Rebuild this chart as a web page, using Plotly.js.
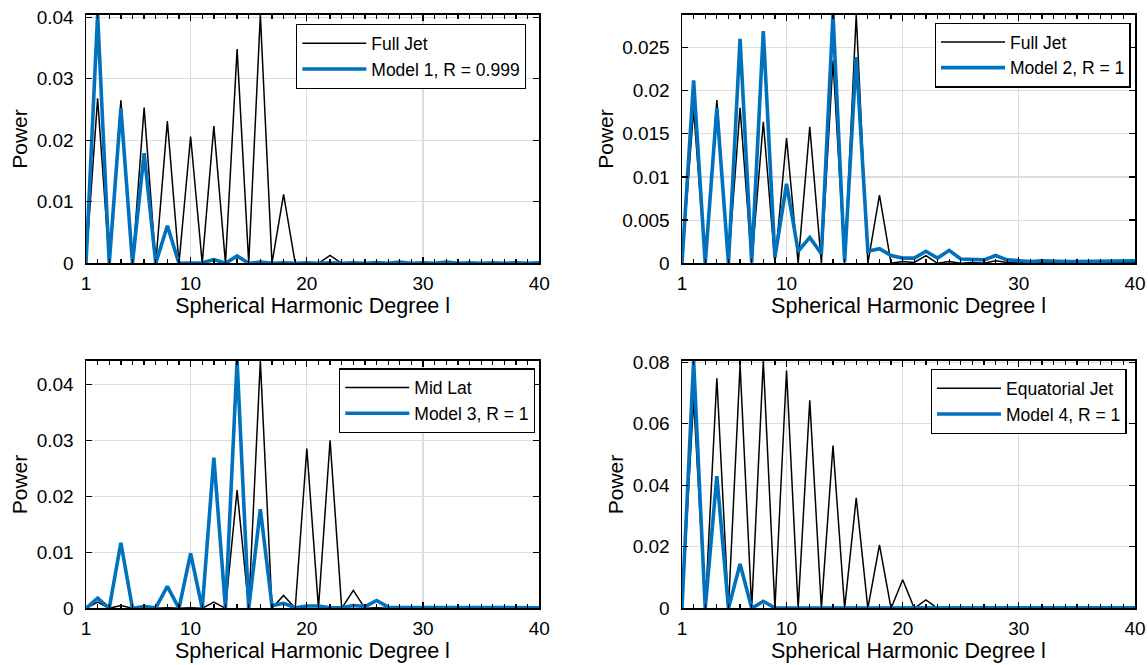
<!DOCTYPE html>
<html>
<head>
<meta charset="utf-8">
<script src="https://cdn.plot.ly/plotly-3.0.1.min.js"></script>
<style>html,body{margin:0;padding:0;background:#fff;}#chart{width:1148px;height:665px;}</style>
</head>
<body>
<div id="chart"></div>
<script>
const degrees = [1,2,3,4,5,6,7,8,9,10,11,12,13,14,15,16,17,18,19,20,21,22,23,24,25,26,27,28,29,30,31,32,33,34,35,36,37,38,39,40];

const fullJet1 = [0,0.0268,0,0.0265,0,0.0253,0,0.0231,0,0.0206,0,0.0223,0,0.0348,0,0.0404,0,0.0112,0,0.0001,0,0.0013,0,0.0001,0,0.0003,0,0.0001,0,0.0001,0,0.0001,0,0,0,0,0,0,0,0];
const model1   = [0,0.0404,0,0.0252,0,0.0179,0,0.0061,0,0.0001,0.0001,0.0006,0,0.0012,0,0.0002,0,0.0001,0,0.0001,0,0.0001,0,0.0001,0,0.0001,0,0.0002,0,0.0001,0,0.0002,0,0.0001,0,0.0001,0,0.0001,0,0.0001];

const fullJet2 = [0,0.0178,0,0.0189,0,0.0180,0,0.0164,0,0.0145,0,0.0158,0,0.0235,0,0.0288,0,0.0079,0,0.0002,0.0001,0.0009,0,0.0002,0,0.0001,0,0.0003,0.0001,0.0001,0.0001,0.0001,0.0001,0.0001,0.0001,0.0001,0.0001,0.0001,0.0001,0.0001];
const model2   = [0,0.0212,0,0.0180,0,0.0260,0.0001,0.0269,0.0007,0.0092,0.0014,0.0030,0.0011,0.0288,0.0002,0.0239,0.0014,0.0017,0.0009,0.0006,0.0006,0.0014,0.0006,0.0015,0.0005,0.0005,0.0004,0.0009,0.0004,0.0003,0.0002,0.0003,0.0002,0.0002,0.0002,0.0002,0.0002,0.0003,0.0002,0.0003];

const midLat   = [0,0.0011,0,0.0005,0,0.0001,0,0.0001,0,0.0001,0,0.0011,0,0.0211,0,0.0442,0,0.0023,0,0.0285,0,0.0300,0,0.0032,0,0.0001,0,0,0,0,0,0,0,0,0,0,0,0,0,0];
const model3   = [0,0.0018,0,0.0117,0,0.0003,0.0001,0.0039,0,0.0098,0,0.0269,0,0.0442,0,0.0177,0.0005,0.0009,0.0001,0.0004,0.0004,0.0001,0.0001,0.0005,0.0003,0.0014,0.0002,0.0002,0.0002,0.0002,0.0001,0.0002,0.0001,0.0001,0.0001,0.0001,0.0001,0.0001,0.0001,0.0001];

const eqJet    = [0,0.0680,0,0.0748,0,0.0791,0,0.0805,0,0.0773,0,0.0676,0,0.0529,0,0.0359,0,0.0206,0,0.0093,0,0.0027,0,0.0002,0,0.0001,0,0.0001,0,0.0001,0,0.0001,0,0.0001,0,0.0001,0,0.0001,0,0.0001];
const model4   = [0,0.0805,0,0.0430,0,0.0144,0,0.0023,0.0001,0.0001,0.0001,0.0002,0.0001,0.0001,0.0001,0.0001,0.0001,0.0001,0.0001,0.0001,0.0001,0.0001,0.0001,0.0001,0.0001,0.0001,0.0001,0.0002,0.0001,0.0002,0.0001,0.0001,0.0001,0.0001,0.0001,0.0001,0.0001,0.0002,0.0001,0.0002];

const refNames   = ['Full Jet','Full Jet','Mid Lat','Equatorial Jet'];
const modelNames = ['Model 1, R = 0.999','Model 2, R = 1','Model 3, R = 1','Model 4, R = 1'];
const refSeries   = [fullJet1, fullJet2, midLat, eqJet];
const modelSeries = [model1, model2, model3, model4];

const xTitle = 'Spherical Harmonic Degree l';
const yTitle = 'Power';
const xTicks = [1,10,20,30,40];
const yTicks = [
  [0,0.01,0.02,0.03,0.04],
  [0,0.005,0.01,0.015,0.02,0.025],
  [0,0.01,0.02,0.03,0.04],
  [0,0.02,0.04,0.06,0.08]
];
const yTickText = [
  ['0','0.01','0.02','0.03','0.04'],
  ['0','0.005','0.01','0.015','0.02','0.025'],
  ['0','0.01','0.02','0.03','0.04'],
  ['0','0.02','0.04','0.06','0.08']
];
const yMax = [0.0404, 0.0288, 0.0442, 0.0805];

const BLUE = '#0072BD';
const FONT = 'Liberation Sans, Arial, Helvetica, sans-serif';
const W = 1148, H = 665;

// pixel boxes of the four axes [left, right, top, bottom]
const boxes = [
  [86, 539.3, 14.7, 263.3],
  [682, 1135, 14.7, 263.3],
  [86, 539.3, 360.7, 608.3],
  [682, 1135, 360.7, 608.3]
];
// legend top-right corners [right, top]
const legendPos = [[526, 24], [1130.7, 22.7], [535, 368.3], [1126.7, 369]];

const traces = [];
const layout = {
  width: W, height: H,
  margin: {l:0, r:0, t:0, b:0},
  paper_bgcolor: '#fff', plot_bgcolor: '#fff',
  font: {family: FONT, color: '#000', size: 18},
  showlegend: true,
  annotations: []
};

for (let i = 0; i < 4; i++) {
  const s = i === 0 ? '' : String(i + 1);
  const leg = i === 0 ? 'legend' : 'legend' + (i + 1);
  const bottomRow = i >= 2;
  traces.push({
    x: degrees, y: refSeries[i], type: 'scatter', mode: 'lines',
    name: refNames[i], xaxis: 'x' + s, yaxis: 'y' + s, legend: leg,
    line: {color: '#000', width: 1.5}
  });
  traces.push({
    x: degrees, y: modelSeries[i], type: 'scatter', mode: 'lines',
    name: modelNames[i], xaxis: 'x' + s, yaxis: 'y' + s, legend: leg,
    line: {color: BLUE, width: 3.6}
  });
  const b = boxes[i];
  layout['xaxis' + s] = {
    domain: [b[0] / W, b[1] / W],
    anchor: 'y' + s,
    range: [1, 40],
    tickmode: 'array', tickvals: xTicks, ticktext: xTicks.map(String),
    ticks: 'inside', ticklen: 6, tickwidth: 1.3, tickcolor: '#000',
    minor: {tickmode: 'linear', tick0: 1, dtick: 1, ticks: 'inside', ticklen: 4, tickwidth: 1.3, tickcolor: '#000', showgrid: false},
    showline: true, linecolor: '#000', linewidth: 1.5, mirror: 'allticks',
    showgrid: true, gridcolor: '#dcdcdc', gridwidth: 1.2,
    zeroline: false,
    tickfont: {family: FONT, size: 19, color: '#000'},
    ticklabelstandoff: 2,
    title: bottomRow ? {text: ''} : {text: xTitle, font: {family: FONT, size: 21.5, color: '#000'}, standoff: 0}
  };
  if (bottomRow) {
    layout.annotations.push({
      text: xTitle, showarrow: false, borderpad: 0,
      xref: 'x' + s + ' domain', x: 0.5, xanchor: 'center',
      yref: 'y' + s + ' domain', y: 0, yanchor: 'middle', yshift: -43,
      font: {family: FONT, size: 21.5, color: '#000'}
    });
  }
  layout['yaxis' + s] = {
    domain: [1 - b[3] / H, 1 - b[2] / H],
    anchor: 'x' + s,
    range: [0, yMax[i]],
    tickmode: 'array', tickvals: yTicks[i], ticktext: yTickText[i],
    ticks: 'inside', ticklen: 6, tickwidth: 1.3, tickcolor: '#000',
    showline: true, linecolor: '#000', linewidth: 1.5, mirror: 'allticks',
    showgrid: true, gridcolor: '#dcdcdc', gridwidth: 1.2,
    zeroline: false,
    tickfont: {family: FONT, size: 19, color: '#000'},
    ticklabelstandoff: 7,
    title: {text: yTitle, font: {family: FONT, size: 21, color: '#000'}, standoff: 3}
  };
  const lp = legendPos[i];
  layout[leg] = {
    x: lp[0] / W, y: 1 - lp[1] / H, xref: 'paper', yref: 'paper',
    xanchor: 'right', yanchor: 'top',
    bgcolor: '#fff', bordercolor: '#000', borderwidth: 1.3,
    font: {family: FONT, size: 17.5, color: '#000'},
    itemwidth: 64, tracegroupgap: 0
  };
}

Plotly.newPlot('chart', traces, layout, {displayModeBar: false, staticPlot: true});
</script>
</body>
</html>
